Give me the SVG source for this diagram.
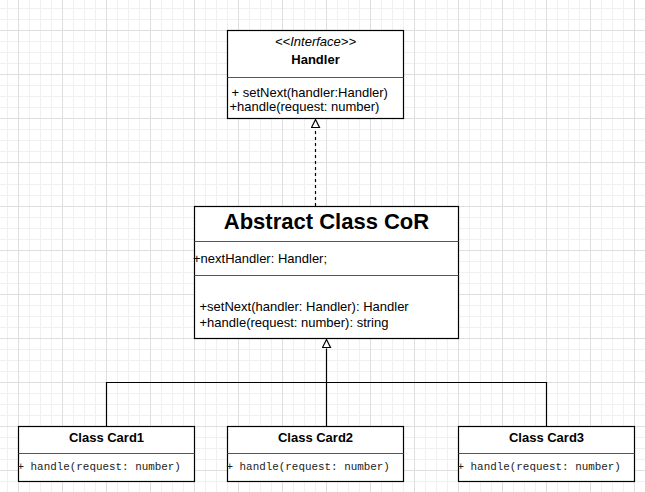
<svg xmlns="http://www.w3.org/2000/svg" width="645" height="492" viewBox="0 0 645 492">
  <defs>
    <pattern id="grid" patternUnits="userSpaceOnUse" x="18" y="30" width="44" height="44">
      <path d="M11.5 0V44M22.5 0V44M33.5 0V44M0 11.5H44M0 22.5H44M0 33.5H44" stroke="#f0f0f0" stroke-width="1" fill="none"/>
      <path d="M0.5 0V44M0 0.5H44" stroke="#dedede" stroke-width="1" fill="none"/>
    </pattern>
    <marker id="tri" markerUnits="userSpaceOnUse" viewBox="0 0 10 10" refX="0" refY="5" markerWidth="10" markerHeight="10" orient="auto">
      <path d="M1 1L9 5L1 9Z" fill="#fff" stroke="#000" stroke-width="1.2"/>
    </marker>
    <style>
      .box{fill:#fff;stroke:#000;stroke-width:1.2}
      .sep{stroke:#555;stroke-width:1;fill:none}
      .t{font-family:"Liberation Sans",Arial,sans-serif;font-size:13px;fill:#000}
      .b{font-weight:bold}
      .i{font-style:italic}
      .c{text-anchor:middle}
      .m{font-family:"Liberation Mono","Courier New",monospace;font-size:10.9px;fill:#222}
      .edge{stroke:#000;stroke-width:1.2;fill:none}
    </style>
  </defs>
  <rect width="645" height="492" fill="#fff"/>
  <rect width="645" height="492" fill="url(#grid)"/>

  <g id="connectors">
    <path class="edge" d="M315.5 206V128.5" stroke="#333" stroke-dasharray="3 3" marker-end="url(#tri)"/>
    <path class="edge" d="M326.5 426V382.5M106.5 426V382.5H546.5V426M326.5 382.5V348.5" marker-end="url(#tri)"/>
  </g>

  <g id="handler">
    <rect class="box" x="227.5" y="30.5" width="176" height="88"/>
    <line class="sep" x1="227.5" y1="77.5" x2="403.5" y2="77.5"/>
    <text class="t c i" x="315.5" y="46">&lt;&lt;Interface&gt;&gt;</text>
    <text class="t c b" x="315.5" y="64">Handler</text>
    <text class="t" x="231.5" y="97">+ setNext(handler:Handler)</text>
    <text class="t" x="229.5" y="110.5">+handle(request: number)</text>
  </g>

  <g id="abstract-cor">
    <rect class="box" x="194.5" y="206.5" width="264" height="132"/>
    <line class="sep" x1="194.5" y1="241.5" x2="458.5" y2="241.5"/>
    <line class="sep" x1="194.5" y1="275.5" x2="458.5" y2="275.5"/>
    <text class="t c b" x="326.5" y="229" style="font-size:22px">Abstract Class CoR</text>
    <text class="t" x="193" y="263">+nextHandler: Handler;</text>
    <text class="t" x="199.5" y="311">+setNext(handler: Handler): Handler</text>
    <text class="t" x="199.5" y="326.5">+handle(request: number): string</text>
  </g>

  <g id="card1">
    <rect class="box" x="18.5" y="426.5" width="176" height="55"/>
    <line class="sep" x1="18.5" y1="453.5" x2="194.5" y2="453.5"/>
    <text class="t c b" x="106.5" y="442">Class Card1</text>
    <text class="m" x="17.5" y="470">+ handle(request: number)</text>
  </g>

  <g id="card2">
    <rect class="box" x="227.5" y="426.5" width="176" height="55"/>
    <line class="sep" x1="227.5" y1="453.5" x2="403.5" y2="453.5"/>
    <text class="t c b" x="315.5" y="442">Class Card2</text>
    <text class="m" x="226.5" y="470">+ handle(request: number)</text>
  </g>

  <g id="card3">
    <rect class="box" x="458.5" y="426.5" width="176" height="55"/>
    <line class="sep" x1="458.5" y1="453.5" x2="634.5" y2="453.5"/>
    <text class="t c b" x="546.5" y="442">Class Card3</text>
    <text class="m" x="457.5" y="470">+ handle(request: number)</text>
  </g>
</svg>
